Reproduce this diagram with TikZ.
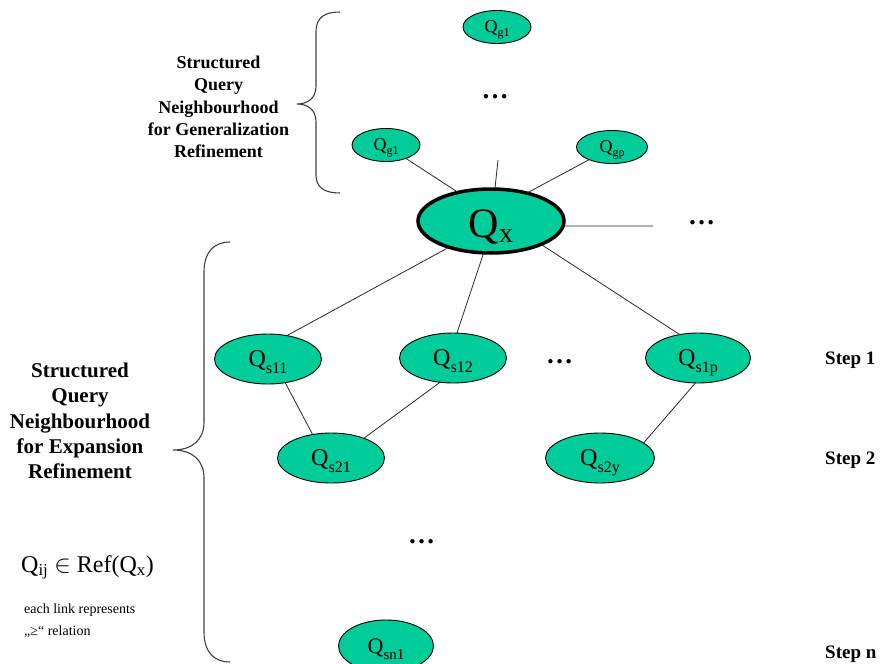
\documentclass[tikz,border=0pt]{standalone}
\usepackage{fontspec}
\setmainfont{Liberation Serif}
\usetikzlibrary{shapes.geometric}
\definecolor{qgreen}{RGB}{0,204,153}
\definecolor{linkgray}{RGB}{40,40,40}
% query label: Q in size #1, subscript #3 in size #2, lowered by #4
\newcommand{\qlabel}[4]{{\fontsize{#1}{#1}\selectfont Q}\raisebox{-#4}{\fontsize{#2}{#2}\selectfont #3}}
\tikzset{
  qnode/.style={ellipse, draw=black, fill=qgreen, line width=0.9pt,
    inner sep=0pt, outer sep=0pt, text depth=0pt},
  qsmall/.style={qnode, minimum width=68pt, minimum height=33pt, text height=12pt},
  qmid/.style={qnode, minimum width=107pt, minimum height=50pt, text height=15pt},
  qbig/.style={qnode, line width=3.5pt, minimum width=146pt, minimum height=64pt, text height=33pt},
  link/.style={draw=linkgray, line width=0.8pt},
  brace/.style={draw=black!75, line width=1.1pt},
  dots/.style={font=\bfseries\fontsize{27}{27}\selectfont, inner sep=0pt, anchor=base},
  heading/.style={font=\bfseries, align=center, inner sep=0pt},
  steplabel/.style={font=\bfseries\fontsize{19}{19}\selectfont, inner sep=0pt, anchor=base west},
}
\begin{document}
\begin{tikzpicture}[x=1pt, y=-1pt]
  \useasboundingbox (0,0) rectangle (882,663);

  % generalization neighbourhood
  \node[qsmall] (gtop) at (497,27) {\qlabel{18pt}{12pt}{g1}{4pt}};
  \node[qsmall] (gone) at (386,145) {\qlabel{18pt}{12pt}{g1}{4pt}};
  \node[qsmall, minimum width=71pt] (gp) at (612,147) {\qlabel{18pt}{12pt}{gp}{4pt}};
  \node[dots] (gdots) at (495,99) {…};

  % central query
  \node[qbig] (qx) at (491,221) {\qlabel{42pt}{28pt}{x}{5pt}};
  \coordinate (upstub) at (498,160);
  \coordinate (rightstub) at (653,226);
  \node[dots] (xdots) at (701.5,224) {…};

  % expansion neighbourhood, step 1
  \node[qmid] (s11) at (268,359) {\qlabel{24pt}{16pt}{s11}{7pt}};
  \node[qmid] (s12) at (453,358) {\qlabel{24pt}{16pt}{s12}{7pt}};
  \node[qmid, minimum width=105pt] (s1p) at (698,358) {\qlabel{24pt}{16pt}{s1p}{7pt}};
  \node[dots] (sdots) at (559.5,363) {…};

  % step 2
  \node[qmid] (s21) at (331,458) {\qlabel{24pt}{16pt}{s21}{7pt}};
  \node[qmid, minimum width=109pt] (s2y) at (600,458) {\qlabel{24pt}{16pt}{s2y}{7pt}};
  \node[dots] (ndots) at (421.5,543) {…};

  % step n
  \node[qnode, minimum width=95pt, minimum height=52pt, text height=14pt] (sn1) at (386,646)
    {\qlabel{22pt}{15pt}{sn1}{6pt}};

  % links
  \draw[link] (qx.139) -- (gone.326);
  \draw[link] (qx.38) -- (gp.209);
  \draw[link] (qx.83) -- (upstub);
  \draw[link] (qx.-4) -- (rightstub);
  \draw[link] (qx.212) -- (s11.51);
  \draw[link] (qx.257) -- (s12.81);
  \draw[link] (qx.335) -- (s1p.128);
  \draw[link] (s11.306) -- (s21.128);
  \draw[link] (s12.242) -- (s21.31);
  \draw[link] (s1p.264) -- (s2y.19);

  % braces
  \draw[brace] (340,12) .. controls (325,12) and (316,17) .. (316,32)
    -- (316,86) .. controls (316,98) and (308,104) .. (297,104)
    .. controls (308,104) and (316,110) .. (316,122)
    -- (316,175) .. controls (316,188) and (325,193) .. (340,193);
  \draw[brace] (230,242) .. controls (214,242) and (204,252) .. (204,272)
    -- (204,422) .. controls (204,440) and (192,450) .. (173,450)
    .. controls (192,450) and (204,460) .. (204,478)
    -- (204,632) .. controls (204,652) and (214,662) .. (230,662);

  % headings
  \node[heading, font=\bfseries\fontsize{18}{22.25}\selectfont] (genhead) at (218.5,107)
    {Structured\\Query\\Neighbourhood\\for Generalization\\Refinement};
  \node[heading, font=\bfseries\fontsize{21}{25.25}\selectfont] (exphead) at (80,421)
    {Structured\\Query\\Neighbourhood\\for Expansion\\Refinement};

  % relation note
  \node[inner sep=0pt, anchor=base west, font=\fontsize{24}{24}\selectfont] (refnote) at (21,572)
    {Q\textsubscript{ij} $\in$ Ref(Q\textsubscript{x})};
  \node[inner sep=0pt, anchor=base west, align=left, font=\fontsize{14}{22}\selectfont] (linknote) at (24,635)
    {each link represents\\„≥“ relation};

  % step labels
  \node[steplabel] (step1) at (825,364) {Step 1};
  \node[steplabel] (step2) at (825,464) {Step 2};
  \node[steplabel] (stepn) at (825,658) {Step n};
\end{tikzpicture}
\end{document}
